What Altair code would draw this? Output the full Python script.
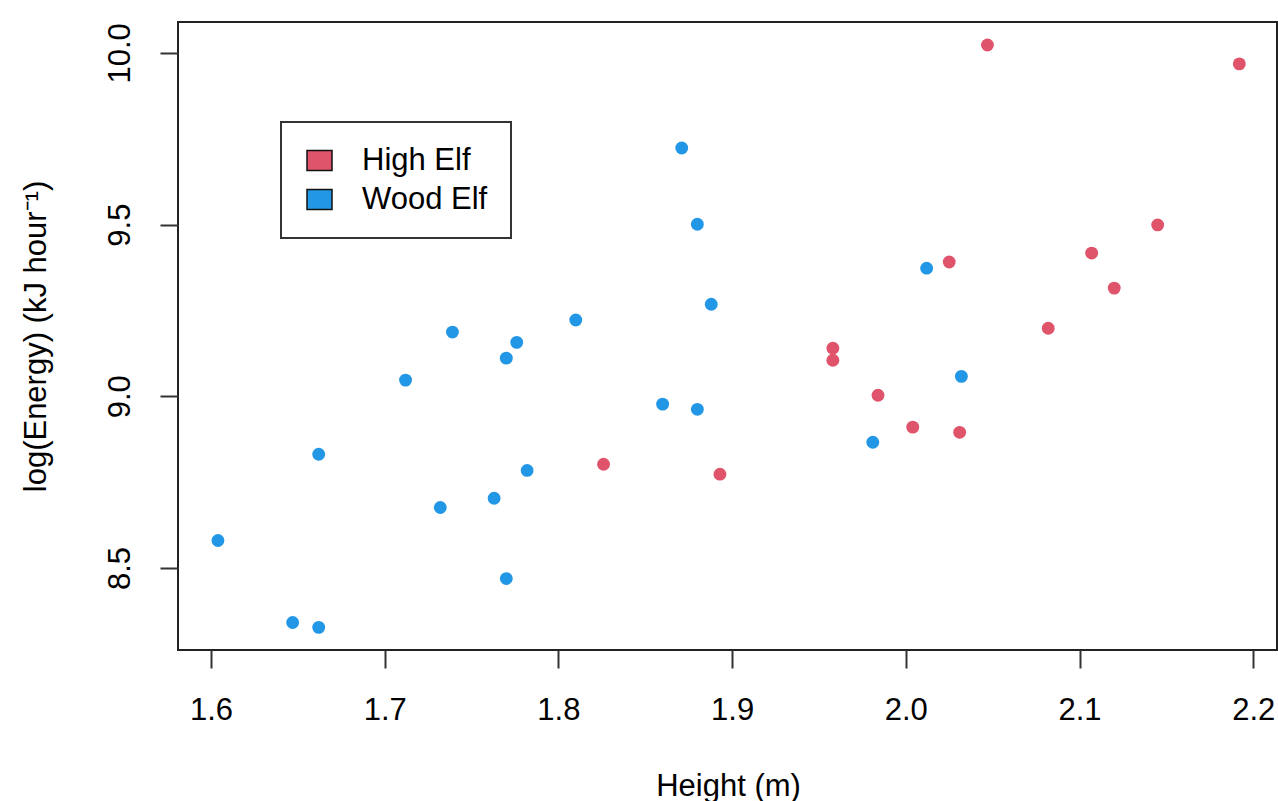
import altair as alt
import pandas as pd

# Wood Elf observations
wood_height = [1.604, 1.647, 1.662, 1.662, 1.712, 1.739, 1.732, 1.763, 1.770, 1.770,
               1.776, 1.782, 1.810, 1.860, 1.880, 1.871, 1.880, 1.888, 1.981, 2.012, 2.032]
wood_energy = [8.58, 8.341, 8.327, 8.831, 9.047, 9.187, 8.676, 8.703, 8.469, 9.111,
               9.157, 8.784, 9.222, 8.977, 8.962, 9.723, 9.501, 9.268, 8.866, 9.373, 9.058]

# High Elf observations
high_height = [1.826, 1.893, 1.958, 1.958, 1.984, 2.004, 2.031, 2.025, 2.047, 2.082,
               2.107, 2.120, 2.145, 2.192]
high_energy = [8.802, 8.773, 9.140, 9.105, 9.003, 8.910, 8.895, 9.391, 10.023, 9.198,
               9.417, 9.315, 9.499, 9.968]

species = ["High Elf", "Wood Elf"]
colors = ["#DF536B", "#2297E6"]
x_ticks = [1.6, 1.7, 1.8, 1.9, 2.0, 2.1, 2.2]
y_ticks = [8.5, 9.0, 9.5, 10.0]

df = pd.concat([
    pd.DataFrame({"height": high_height, "energy": high_energy, "species": "High Elf"}),
    pd.DataFrame({"height": wood_height, "energy": wood_energy, "species": "Wood Elf"}),
])

FONT = "Liberation Sans"
FS = 31

chart = alt.Chart(df).mark_circle(size=165, opacity=1).encode(
    x=alt.X("height:Q",
            scale=alt.Scale(domain=[1.581, 2.2137], nice=False, zero=False),
            axis=alt.Axis(values=x_ticks, format=".1f", title="Height (m)",
                          labelPadding=27, titleX=550, titleY=145,
                          titleBaseline="alphabetic", titleAlign="center",
                          titleAnchor="middle")),
    y=alt.Y("energy:Q",
            scale=alt.Scale(domain=[8.261, 10.09], nice=False, zero=False),
            axis=alt.Axis(values=y_ticks, format=".1f",
                          title="log(Energy) (kJ hour\u207b\u00b9)",
                          labelAngle=270, labelAlign="center", labelBaseline="bottom",
                          labelPadding=24, titleX=-133, titleY=314, titleAngle=270,
                          titleBaseline="alphabetic", titleAlign="center")),
    color=alt.Color("species:N",
                    scale=alt.Scale(domain=species, range=colors),
                    legend=alt.Legend(title=None, orient="none", legendX=103, legendY=100,
                                      fillColor="white", strokeColor="#333333",
                                      padding=23, rowPadding=7,
                                      symbolType="M-1,-0.8H1V0.8H-1Z", symbolSize=625,
                                      symbolStrokeColor="#111111", symbolStrokeWidth=1.5,
                                      symbolOpacity=1,
                                      labelOffset=27, labelFont=FONT, labelFontSize=FS,
                                      labelColor="black")),
).properties(
    width=1099, height=628,
    autosize=alt.AutoSizeParams(type="none"),
    padding={"left": 178, "top": 22, "right": 1, "bottom": 151},
).configure_view(
    stroke="#222222", strokeWidth=2
).configure_axis(
    domain=False, grid=False, tickSize=18, tickWidth=2, tickColor="#333333",
    labelFont=FONT, labelFontSize=FS, labelColor="black",
    titleFont=FONT, titleFontSize=FS, titleFontWeight="normal", titleColor="black",
).configure_legend(
    strokeWidth=2
)

chart.save("out.html", embed_options={"renderer": "svg", "actions": False})
